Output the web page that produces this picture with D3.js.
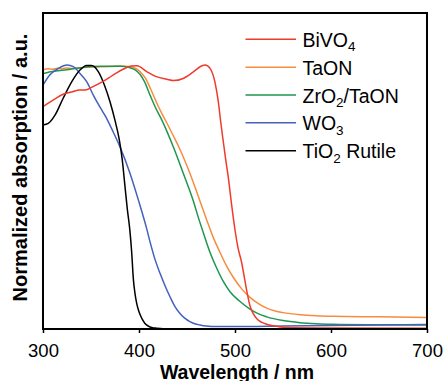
<!DOCTYPE html>
<html>
<head>
<meta charset="utf-8">
<script src="https://cdn.jsdelivr.net/npm/d3@7"></script>
<style>
  body { margin: 0; background: #fff; }
  text { font-family: "Liberation Sans", Arial, sans-serif; }
</style>
</head>
<body>
<div id="graph-content"></div>
<script>
// [wavelength nm, normalized absorption]
const bivo4 = [
  [300,0.842],[310,0.866],[321,0.889],[331,0.899],[338,0.905],[344,0.905],[352,0.918],
  [363,0.939],[373,0.962],[384,0.985],[392,0.996],[398,0.997],[408,0.975],[418,0.956],
  [429,0.946],[436,0.941],[446,0.949],[457,0.975],[465,0.996],[469,1.0],[474,0.987],
  [479,0.937],[482.6,0.861],[485.1,0.785],[487.8,0.71],[490,0.65],[493,0.575],
  [496.5,0.47],[500,0.375],[503,0.31],[507,0.25],[510,0.19],[512.5,0.14],[515.6,0.088],
  [519,0.058],[523,0.038],[528,0.025],[533,0.018],[540,0.012],[547,0.008],[560,0.005],
  [600,0.004],[700,0.003]
];
const taon = [
  [300,0.982],[305,0.986],[310,0.984],[315,0.988],[320,0.986],[325,0.989],[330,0.987],
  [340,0.99],[350,0.992],[360,0.993],[370,0.994],[380,0.996],[390,0.994],[397,0.986],
  [402,0.972],[407,0.948],[412,0.91],[418,0.86],[424,0.815],[430.5,0.77],[436,0.73],
  [442.7,0.68],[453,0.59],[463.5,0.485],[470.5,0.413],[477,0.35],[484.4,0.29],[491,0.24],
  [498.3,0.195],[507,0.152],[515.6,0.12],[524,0.097],[533,0.079],[542,0.068],[550,0.062],
  [567.7,0.054],[585,0.05],[602,0.048],[650,0.046],[700,0.044]
];
const zro2Taon = [
  [300,0.968],[305,0.972],[310,0.975],[315,0.978],[320,0.98],[330,0.985],[340,0.99],
  [350,0.994],[360,0.995],[370,0.995],[380,0.995],[390,0.99],[396,0.982],[401,0.965],
  [406,0.935],[411,0.89],[417,0.84],[425.3,0.78],[435.7,0.69],[446.1,0.59],[456.6,0.485],
  [462,0.42],[467,0.365],[474,0.29],[481,0.23],[487.8,0.18],[495,0.14],[505,0.105],
  [515.6,0.075],[524,0.058],[533,0.046],[550,0.032],[567.7,0.024],[585,0.02],[602,0.018],
  [650,0.016],[700,0.015]
];
const wo3 = [
  [300,0.924],[307,0.962],[316,0.987],[325,1.0],[331.6,0.994],[338.5,0.968],[345.5,0.937],
  [352.4,0.886],[359.4,0.84],[366,0.8],[372,0.755],[380.2,0.69],[390.6,0.59],[399.3,0.489],
  [408,0.38],[411.5,0.33],[417,0.26],[421.9,0.211],[427,0.165],[432.3,0.122],[437,0.088],
  [442.7,0.059],[448,0.04],[453,0.028],[458,0.02],[463.5,0.015],[470,0.011],[481,0.009],
  [500,0.009],[550,0.011],[600,0.013],[650,0.015],[700,0.017]
];
const tio2 = [
  [300,0.773],[305.5,0.779],[312.5,0.81],[321,0.874],[330,0.937],[338.5,0.981],[345.5,0.998],
  [350.7,0.998],[357.6,0.975],[364.6,0.918],[369.8,0.861],[375,0.79],[379.5,0.716],
  [382.6,0.64],[385.4,0.54],[387.8,0.455],[390.3,0.38],[392.4,0.29],[394.1,0.19],
  [395.8,0.135],[397.6,0.097],[400,0.065],[402.8,0.041],[406,0.022],[409.7,0.011],
  [414,0.005],[418.4,0.003],[425,0.001],[440,0],[700,0]
];

const seriesNames = ["BiVO4", "TaON", "ZrO2/TaON", "WO3", "TiO2 Rutile"];
const seriesColors = ["#ef3b2c", "#f68d3e", "#1f9650", "#4361bd", "#000000"];
const xTicks = [300, 400, 500, 600, 700];

const W = 444, H = 381;
const margin = {left: 43, right: 17, top: 13, bottom: 52};
const width = W - margin.left - margin.right, height = H - margin.top - margin.bottom;

const svg = d3.select("#graph-content").append("svg")
  .attr("width", W).attr("height", H);

const xScale = d3.scaleLinear().domain([300, 700]).range([margin.left, margin.left + width]);
const yScale = d3.scaleLinear().domain([0, 1.197]).range([margin.top + height, margin.top]);

const line = d3.line()
  .x(d => xScale(d[0]))
  .y(d => yScale(d[1]))
  .curve(d3.curveMonotoneX);

const allSeries = [bivo4, taon, zro2Taon, wo3, tio2];
// draw in reverse so red ends on top as in the figure
[1, 2, 3, 4, 0].forEach(i => {
  svg.append("path")
    .datum(allSeries[i])
    .attr("fill", "none")
    .attr("stroke", seriesColors[i])
    .attr("stroke-width", 1.5)
    .attr("d", line);
});

// x axis
const xAxis = svg.append("g")
  .attr("transform", "translate(0," + (margin.top + height) + ")")
  .call(d3.axisBottom(xScale).tickValues(xTicks).tickSize(4).tickPadding(11).tickFormat(d3.format("d")));
xAxis.select(".domain").remove();
xAxis.selectAll("line").attr("stroke", "#000").attr("stroke-width", 1.5);
xAxis.selectAll("text").attr("font-size", 18.5).attr("fill", "#000")
  .style("font-family", '"Liberation Sans", Arial, sans-serif');

// frame
svg.append("rect")
  .attr("x", margin.left).attr("y", margin.top)
  .attr("width", width).attr("height", height)
  .attr("fill", "none").attr("stroke", "#000").attr("stroke-width", 2);

// axis labels
svg.append("text")
  .attr("x", margin.left + width / 2 + 2).attr("y", 378.5)
  .attr("text-anchor", "middle")
  .attr("font-size", 19.5).attr("font-weight", "bold")
  .text("Wavelength / nm");

svg.append("text")
  .attr("transform", "translate(27," + 167.5 + ") rotate(-90)")
  .attr("text-anchor", "middle")
  .attr("font-size", 20).attr("font-weight", "bold")
  .text("Normalized absorption / a.u.");

// legend
const legendParts = [
  [["BiVO", false], ["4", true]],
  [["TaON", false]],
  [["ZrO", false], ["2", true], ["/TaON", false]],
  [["WO", false], ["3", true]],
  [["TiO", false], ["2", true], [" Rutile", false]]
];
const legend = svg.append("g");
seriesNames.forEach((name, i) => {
  const ly = 39.3 + i * 27.85;
  legend.append("line")
    .attr("x1", 245.5).attr("x2", 296)
    .attr("y1", ly).attr("y2", ly)
    .attr("stroke", seriesColors[i]).attr("stroke-width", 1.5);
  const t = legend.append("text")
    .attr("x", 302.5).attr("y", ly + 7.5)
    .attr("font-size", 19.5).attr("fill", "#000");
  legendParts[i].forEach(p => {
    const ts = t.append("tspan").text(p[0]);
    if (p[1]) ts.attr("font-size", 13.5).attr("dy", 4.5);
    else if (t.selectAll("tspan").size() > 1) ts.attr("dy", -4.5);
  });
});
</script>
</body>
</html>
